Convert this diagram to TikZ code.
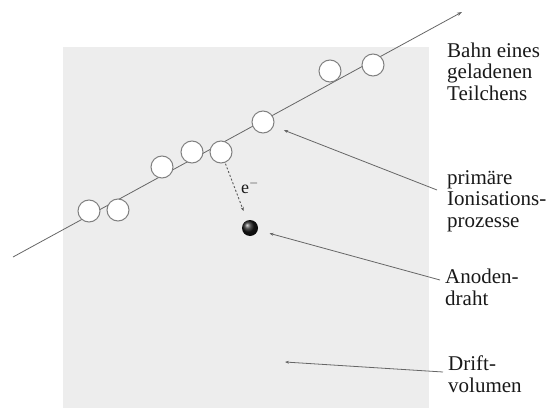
\documentclass[tikz,border=0pt]{standalone}
\usepackage{fontspec}
\setmainfont{Liberation Serif}
\usetikzlibrary{arrows.meta,calc}
\begin{document}
\begin{tikzpicture}[x=1pt,y=-1pt,
  ion/.style={circle,draw=black!50,fill=white,line width=1pt,minimum size=22pt,inner sep=0pt},
  anode/.style={circle,minimum size=16pt,inner sep=0pt,shading=ball,ball color=black!90},
  track/.style={draw=black!60,line width=0.8pt,-{Stealth[length=5pt,width=3.5pt]}},
  ptr/.style={draw=black!60,line width=0.8pt,-{Stealth[length=4pt,width=3pt]}},
  eflow/.style={draw=black!65,line width=0.9pt,dash pattern=on 2pt off 2pt,-{Stealth[length=4pt,width=3pt]}},
  lbl/.style={anchor=base west,inner sep=0pt,align=left,font=\fontsize{21}{21.5}\selectfont,text=black!90},
]
\useasboundingbox (0,0) rectangle (553,409);
% drift volume
\fill[black!7] (63,47) rectangle (429,408);

% particle track
\coordinate (tA) at (13,257);
\coordinate (tB) at (462,12);
\draw[track] (tA) -- (tB);

% primary ionisation clusters
\node[ion] (i1) at (89,211) {};
\node[ion] (i2) at (118,210) {};
\node[ion] (i3) at (162,167) {};
\node[ion] (i4) at (192,152) {};
\node[ion] (i5) at (221,152) {};
\node[ion] (i6) at (263,122) {};
\node[ion] (i7) at (330,71) {};
\node[ion] (i8) at (373,65) {};

% anode wire
\node[anode] (wire) at (250,228) {};

% drifting electron
\draw[eflow,shorten <=1pt,shorten >=10pt] (i5) -- (wire);
\node[anchor=base west,inner sep=0pt,font=\fontsize{18}{18}\selectfont,text=black!90] (elab) at (241,193) {e$^{-}$};

% labels (placed at the baseline of their last line)
\node[lbl] (lBahn) at (447,100) {Bahn eines\\geladenen\\Teilchens};
\node[lbl] (lIon) at (447,227) {primäre\\Ionisations-\\prozesse};
\node[lbl] (lAnode) at (445,305) {Anoden-\\draht};
\node[lbl] (lDrift) at (448,392) {Drift-\\volumen};

% pointers
\coordinate (dv) at (285,362);
\draw[ptr,shorten >=11pt] ($(lIon.base west)+(-10,-37)$) -- (i6);
\draw[ptr,shorten >=12pt] ($(lAnode.base west)+(-5,-25)$) -- (wire);
\draw[ptr] ($(lDrift.base west)+(-5,-20)$) -- (dv);
\end{tikzpicture}
\end{document}
